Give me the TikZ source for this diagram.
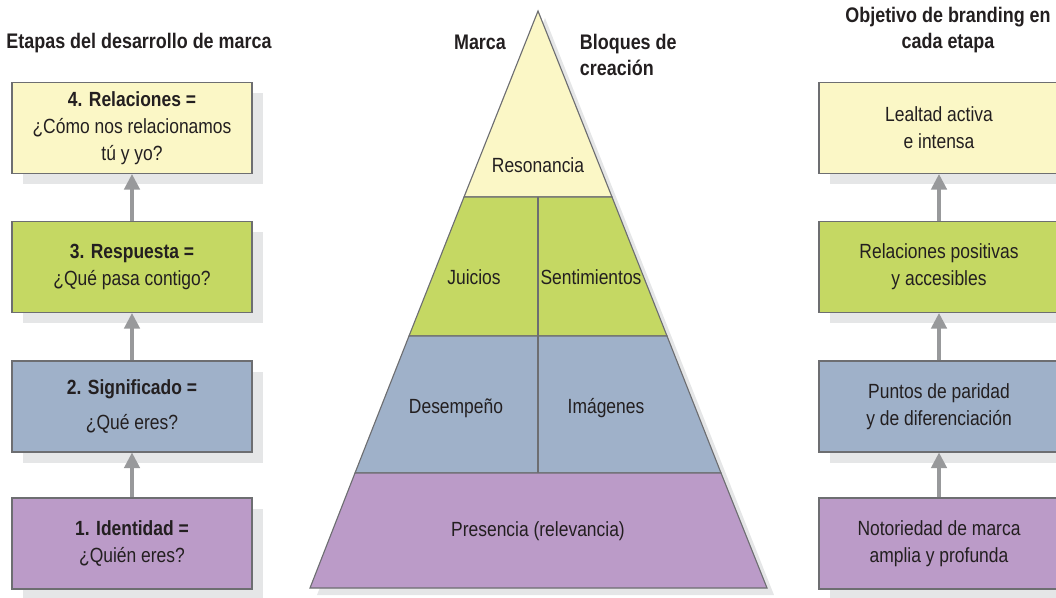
\documentclass[tikz,border=0pt]{standalone}
\usepackage{fontspec}
\setmainfont{Liberation Sans}[FakeStretch=0.85]
\usetikzlibrary{arrows.meta,shadows}
\definecolor{relyellow}{HTML}{FBF7C6}
\definecolor{respgreen}{HTML}{C5D863}
\definecolor{signblue}{HTML}{9FB1C9}
\definecolor{identpurple}{HTML}{BB9BC8}
\definecolor{shadowgray}{HTML}{E5E6E7}
\definecolor{edgegray}{HTML}{6D6E71}
\definecolor{arrowgray}{HTML}{98999B}
\definecolor{inkblack}{HTML}{231F20}

\begin{document}
\begin{tikzpicture}[x=0.025cm, y=-0.025cm,
    stage/.style={draw=edgegray, line width=0.8pt, minimum width=6cm,
      minimum height=2.275cm, align=center, text=inkblack,
      font=\fontsize{14.6}{19.2}\selectfont,
      drop shadow={shadow xshift=0.28cm, shadow yshift=-0.27cm,
        fill=shadowgray, opacity=1}},
    uparrow/.style={arrowgray, line width=2.2pt,
      -{Triangle[width=11pt,length=11pt]}},
    heading/.style={text=inkblack, font=\fontsize{15}{19}\selectfont\bfseries},
    layer/.style={draw=edgegray, line width=0.8pt},
    lbl/.style={text=inkblack, font=\fontsize{14.6}{19.2}\selectfont}]
    \useasboundingbox (0,0) rectangle (1056,597);
    \clip (0,0) rectangle (1056,597);
    % Headings
    \node[heading] (tleft) at (139,43) {Etapas del desarrollo de marca};
    \node[heading, align=center] (tright) at (948,30)
      {Objetivo de branding en\\cada etapa};
    \node[heading] (tmarca) at (480,42) {Marca};
    \node[heading, align=left, anchor=west] (tbloques) at (575,55)
      {Bloques de\\creación};
    % Stages of brand development
    \node[stage, fill=relyellow] (s4) at (132,128)
      {\textbf{4. Relaciones =}\\¿Cómo nos relacionamos\\tú y yo?};
    \node[stage, fill=respgreen] (s3) at (132,267)
      {\textbf{3. Respuesta =}\\¿Qué pasa contigo?};
    \node[stage, fill=signblue] (s2) at (132,406.5)
      {\textbf{2. Significado =}\\[5pt]¿Qué eres?};
    \node[stage, fill=identpurple] (s1) at (132,543.5)
      {\textbf{1. Identidad =}\\¿Quién eres?};
    \draw[uparrow] (s1) -- (s2);
    \draw[uparrow] (s2) -- (s3);
    \draw[uparrow] (s3) -- (s4);
    % Branding objectives
    \node[stage, fill=relyellow] (g4) at (939,128)
      {Lealtad activa\\e intensa};
    \node[stage, fill=respgreen] (g3) at (939,267)
      {Relaciones positivas\\y accesibles};
    \node[stage, fill=signblue] (g2) at (939,406.5)
      {Puntos de paridad\\y de diferenciación};
    \node[stage, fill=identpurple] (g1) at (939,543.5)
      {Notoriedad de marca\\amplia y profunda};
    \draw[uparrow] (g1) -- (g2);
    \draw[uparrow] (g2) -- (g3);
    \draw[uparrow] (g3) -- (g4);
    % Define points of the pyramid
    \coordinate (apex) at (538,11);
    \coordinate (baseL) at (310,588);
    \coordinate (baseR) at (767,588);
    \coordinate (aL) at (464,197);
    \coordinate (aR) at (612,197);
    \coordinate (bL) at (409,336);
    \coordinate (bR) at (667,336);
    \coordinate (cL) at (355,473);
    \coordinate (cR) at (721,473);
    % Shadow
    \fill[shadowgray] ([shift={(7,7)}]apex) -- ([shift={(7,7)}]baseR)
      -- ([shift={(7,7)}]baseL) -- cycle;
    % Layers
    \filldraw[layer, fill=relyellow] (apex) -- (aR) -- (aL) -- cycle;
    \filldraw[layer, fill=respgreen] (aL) -- (aR) -- (bR) -- (bL) -- cycle;
    \filldraw[layer, fill=signblue] (bL) -- (bR) -- (cR) -- (cL) -- cycle;
    \filldraw[layer, fill=identpurple] (cL) -- (cR) -- (baseR) -- (baseL) -- cycle;
    \draw[layer] (538,197) -- (538,473);
    % Label the blocks
    \node[lbl] (resonancia) at (538,165) {Resonancia};
    \node[lbl] (juicios) at (474,277) {Juicios};
    \node[lbl] (sentimientos) at (591,277) {Sentimientos};
    \node[lbl] (desempeno) at (456,408) {Desempeño};
    \node[lbl] (imagenes) at (606,408) {Imágenes};
    \node[lbl] (presencia) at (538,531) {Presencia (relevancia)};
\end{tikzpicture}
\end{document}
